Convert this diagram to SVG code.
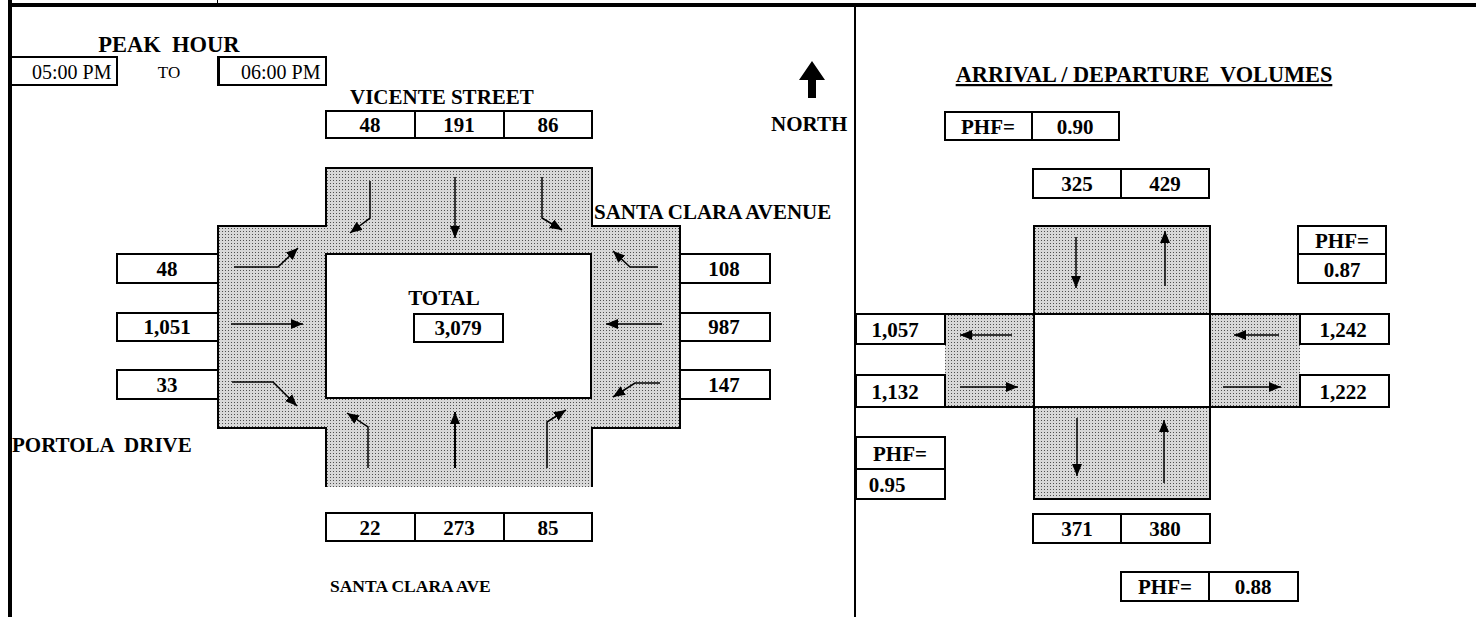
<svg xmlns="http://www.w3.org/2000/svg" width="1476" height="617" viewBox="0 0 1476 617">
<style>
.t{font-family:"Liberation Serif","Times New Roman",serif;fill:#000}
.b{font-weight:bold;font-size:21px}
.r{font-size:20px}
.c{text-anchor:middle}
.box{fill:none;stroke:#000;stroke-width:2}
.ln{fill:none;stroke:#000;stroke-width:2}
.ar{fill:none;stroke:#000;stroke-width:1.5}
.ar2{fill:none;stroke:#000;stroke-width:2}
.st{fill:url(#stip)}
</style>
<defs>
<pattern id="stip" width="3" height="3" patternUnits="userSpaceOnUse">
<rect width="3" height="3" fill="#d8d8d8"/>
<rect width="1" height="1" fill="#505050"/>
</pattern>
<marker id="ah" markerUnits="userSpaceOnUse" markerWidth="14" markerHeight="10" refX="12" refY="5" orient="auto">
<path d="M0,0 L12,5 L0,10 Z" fill="#000"/>
</marker>
</defs>

<g id="frame">
<rect x="8" y="3" width="1468" height="4" fill="#000"/>
<rect x="8" y="0" width="4" height="617" fill="#000"/>
<rect x="854" y="5" width="2" height="612" fill="#000"/>
<rect x="217" y="0" width="1" height="4" fill="#000"/>
</g>

<g id="peak-hour">
<text class="t b c" x="169" y="52" style="font-size:22.5px" xml:space="preserve">PEAK  HOUR</text>
<rect class="box" x="10" y="57" width="107" height="28"/>
<text class="t r" x="32" y="79">05:00 PM</text>
<text class="t c" x="169" y="78" style="font-size:17px">TO</text>
<rect class="box" x="218" y="57" width="108" height="28"/>
<rect x="217" y="56" width="3" height="30" fill="#000"/>
<text class="t r" x="241" y="79">06:00 PM</text>
</g>

<g id="north">
<polygon points="812,61 825,80 816,80 816,98 808,98 808,80 799,80" fill="#000"/>
<text class="t b" x="771" y="131">NORTH</text>
</g>

<g id="labels">
<text class="t b" x="350" y="104">VICENTE STREET</text>
<text class="t b" x="594" y="219">SANTA CLARA AVENUE</text>
<text class="t b" x="12" y="452" xml:space="preserve">PORTOLA  DRIVE</text>
<text class="t b" x="330" y="592" style="font-size:17.5px">SANTA CLARA AVE</text>
</g>

<g id="intersection">
<path class="st" d="M326,168 H592 V226 H680 V428 H592 V487 H326 V428 H218 V226 H326 Z"/>
<path class="ln" d="M326,487 V428 H218 V226 H326 V168 H592 V226 H680 V428 H592 V487"/>
<rect x="326" y="254" width="265" height="144" fill="#fff" stroke="#000" stroke-width="2"/>
</g>

<g id="total">
<text class="t b c" x="444" y="305">TOTAL</text>
<rect class="box" x="414" y="314" width="89" height="28"/>
<text class="t b c" x="458" y="335">3,079</text>
</g>

<g id="north-approach">
<rect class="box" x="326" y="111" width="266" height="27"/>
<line class="ln" x1="415" y1="111" x2="415" y2="138"/>
<line class="ln" x1="504" y1="111" x2="504" y2="138"/>
<text class="t b c" x="370" y="132">48</text>
<text class="t b c" x="459" y="132">191</text>
<text class="t b c" x="548" y="132">86</text>
</g>

<g id="west-approach">
<rect class="box" x="117" y="254" width="101" height="29"/>
<rect class="box" x="117" y="313" width="101" height="28"/>
<rect class="box" x="117" y="370" width="101" height="29"/>
<text class="t b c" x="167" y="276">48</text>
<text class="t b c" x="167" y="334">1,051</text>
<text class="t b c" x="167" y="392">33</text>
</g>

<g id="east-approach">
<rect class="box" x="680" y="254" width="90" height="29"/>
<rect class="box" x="680" y="313" width="90" height="28"/>
<rect class="box" x="680" y="370" width="90" height="29"/>
<text class="t b c" x="724" y="276">108</text>
<text class="t b c" x="724" y="334">987</text>
<text class="t b c" x="724" y="392">147</text>
</g>

<g id="south-approach">
<rect class="box" x="326" y="513" width="266" height="28"/>
<line class="ln" x1="415" y1="513" x2="415" y2="541"/>
<line class="ln" x1="504" y1="513" x2="504" y2="541"/>
<text class="t b c" x="370" y="535">22</text>
<text class="t b c" x="459" y="535">273</text>
<text class="t b c" x="548" y="535">85</text>
</g>

<g id="arrival-departure">
<text class="t b c" x="1144" y="82" style="font-size:22.3px;text-decoration:underline" xml:space="preserve">ARRIVAL / DEPARTURE  VOLUMES</text>
<rect class="box" x="945" y="112" width="174" height="28"/>
<line class="ln" x1="1032" y1="112" x2="1032" y2="140"/>
<text class="t b c" x="988" y="134">PHF=</text>
<text class="t b c" x="1075" y="134">0.90</text>

<rect class="box" x="1033" y="169" width="176" height="29"/>
<line class="ln" x1="1121" y1="169" x2="1121" y2="198"/>
<text class="t b c" x="1077" y="191">325</text>
<text class="t b c" x="1165" y="191">429</text>

<rect class="box" x="1298" y="226" width="88" height="57"/>
<line class="ln" x1="1298" y1="254" x2="1386" y2="254"/>
<text class="t b c" x="1342" y="248">PHF=</text>
<text class="t b c" x="1342" y="277">0.87</text>

<rect class="st" x="1034" y="226" width="176" height="88" stroke="#000" stroke-width="2"/>
<rect class="st" x="945" y="314" width="89" height="93"/>
<rect class="st" x="1210" y="314" width="90" height="93"/>
<line class="ln" x1="945" y1="314" x2="1034" y2="314"/>
<line class="ln" x1="945" y1="407" x2="1034" y2="407"/>
<line class="ln" x1="1210" y1="314" x2="1300" y2="314"/>
<line class="ln" x1="1210" y1="407" x2="1300" y2="407"/>
<rect class="st" x="1034" y="407" width="176" height="92" stroke="#000" stroke-width="2"/>
<rect x="1034" y="314" width="176" height="93" fill="#fff" stroke="#000" stroke-width="2"/>

<rect class="box" x="856" y="314" width="89" height="30"/>
<rect class="box" x="856" y="375" width="89" height="32"/>
<text class="t b c" x="895" y="337">1,057</text>
<text class="t b c" x="895" y="399">1,132</text>
<rect class="box" x="1300" y="314" width="89" height="30"/>
<rect class="box" x="1300" y="375" width="89" height="32"/>
<text class="t b c" x="1343" y="337">1,242</text>
<text class="t b c" x="1343" y="399">1,222</text>

<rect class="box" x="856" y="437" width="89" height="62"/>
<line class="ln" x1="856" y1="469" x2="945" y2="469"/>
<text class="t b c" x="900" y="461">PHF=</text>
<text class="t b c" x="887" y="492">0.95</text>

<rect class="box" x="1033" y="514" width="177" height="29"/>
<line class="ln" x1="1121" y1="514" x2="1121" y2="543"/>
<text class="t b c" x="1077" y="536">371</text>
<text class="t b c" x="1165" y="536">380</text>

<rect class="box" x="1121" y="572" width="177" height="29"/>
<line class="ln" x1="1209" y1="572" x2="1209" y2="601"/>
<text class="t b c" x="1165" y="594">PHF=</text>
<text class="t b c" x="1253" y="594">0.88</text>
</g>

<g id="connectors">
<polyline class="ar" points="370,181 370,218 350,233" marker-end="url(#ah)"/>
<polyline class="ar" points="455,177 455,238" marker-end="url(#ah)"/>
<polyline class="ar" points="542,177 542,218 562,230" marker-end="url(#ah)"/>

<polyline class="ar" points="234,267 278,267 298,248" marker-end="url(#ah)"/>
<polyline class="ar" points="231,324 303,324" marker-end="url(#ah)"/>
<polyline class="ar" points="232,382 273,382 297,406" marker-end="url(#ah)"/>

<polyline class="ar" points="658,267 630,267 613,251" marker-end="url(#ah)"/>
<polyline class="ar" points="662,324 606,324" marker-end="url(#ah)"/>
<polyline class="ar" points="660,383 635,383 613,397" marker-end="url(#ah)"/>

<polyline class="ar" points="368,468 368,427 347,413" marker-end="url(#ah)"/>
<polyline class="ar2" points="455,468 455,412" marker-end="url(#ah)"/>
<polyline class="ar" points="547,468 547,422 566,410" marker-end="url(#ah)"/>

<polyline class="ar" points="1076,237 1076,288" marker-end="url(#ah)"/>
<polyline class="ar" points="1165,286 1165,231" marker-end="url(#ah)"/>
<polyline class="ar" points="1012,335 960,335" marker-end="url(#ah)"/>
<polyline class="ar" points="960,387 1018,387" marker-end="url(#ah)"/>
<polyline class="ar" points="1279,335 1234,335" marker-end="url(#ah)"/>
<polyline class="ar" points="1223,387 1281,387" marker-end="url(#ah)"/>
<polyline class="ar" points="1077,418 1077,476" marker-end="url(#ah)"/>
<polyline class="ar" points="1164,483 1164,420" marker-end="url(#ah)"/>
</g>
</svg>
